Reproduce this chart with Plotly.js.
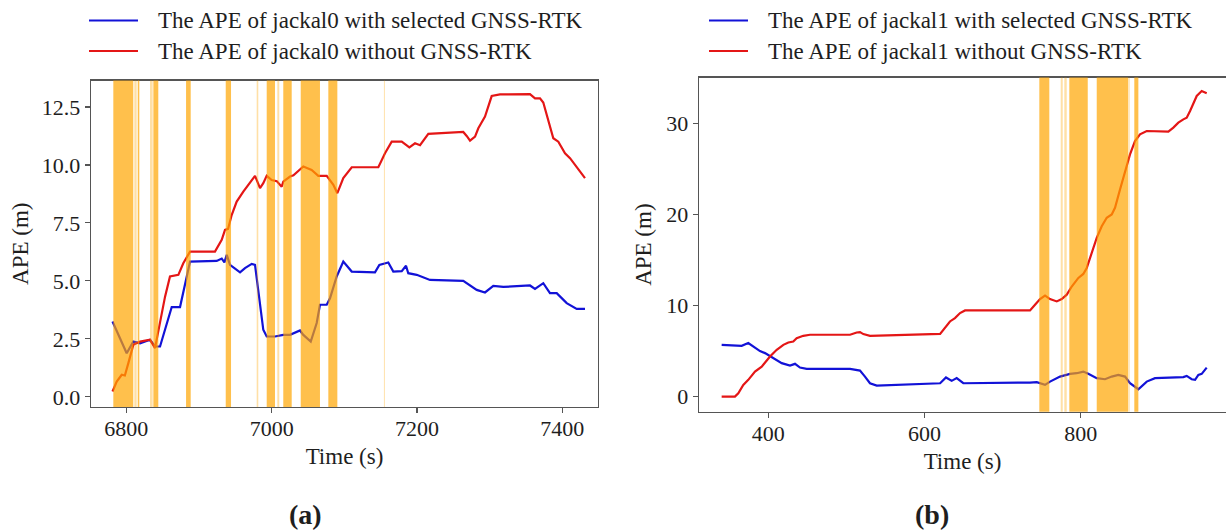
<!DOCTYPE html>
<html>
<head>
<meta charset="utf-8">
<script src="https://cdn.plot.ly/plotly-3.0.1.min.js"></script>
<style>html,body{margin:0;padding:0;background:#fff;}#chart{width:1226px;height:531px;}</style>
</head>
<body>
<div id="chart"></div>
<script>
// ---------- data ----------
const t0Blue = [6781,6790,6800.5,6809.6,6818.9,6832.6,6839.5,6846.4,6855.6,6862.5,6873.9,6880.8,6887.7,6924.4,6931.3,6935,6938.2,6942.7,6951.9,6956.5,6963.3,6972.6,6977.1,6981.6,6988.5,6993.2,7004.6,7016,7025.3,7039,7043.6,7053.8,7062,7066.5,7075.8,7080.3,7089.5,7098.6,7110.2,7142.2,7148.2,7160.5,7167.4,7179,7184.9,7188,7199.6,7217.9,7263.7,7282.2,7293.6,7305,7318.8,7355.5,7362.4,7373.8,7383,7392.3,7406,7419.8,7431.2];
const v0Blue = [3.25,2.6,1.88,2.38,2.31,2.46,2.17,2.17,3.18,3.87,3.87,4.9,5.83,5.86,5.96,5.8,6.12,5.69,5.47,5.37,5.55,5.73,5.69,4.61,2.89,2.6,2.6,2.67,2.67,2.86,2.67,2.38,3.18,3.97,3.97,4.25,5.19,5.83,5.4,5.37,5.69,5.79,5.4,5.42,5.65,5.33,5.26,5.04,5.0,4.61,4.5,4.78,4.74,4.8,4.65,4.9,4.47,4.47,4.04,3.79,3.79];
const t0Red = [6781,6786.8,6793.7,6798,6802.8,6809.6,6818.9,6832.6,6839.5,6846.4,6853.3,6860.1,6871.6,6878.4,6887.7,6922,6931.3,6935.8,6940,6945,6951.9,6961,6970.2,6977.1,6984,6988.5,6993.2,7000,7007,7013.8,7016,7025.3,7030,7043.6,7055,7064.2,7075.8,7084.9,7090.4,7098.6,7110.2,7146.8,7156,7165.2,7179,7189.5,7197.3,7204.2,7215.6,7263.7,7268.4,7273,7279.9,7284.4,7293.6,7302.8,7314.2,7355.5,7362.4,7369.3,7373.8,7387.6,7394.5,7403.7,7410.6,7431.2];
const v0Red = [0.23,0.66,0.95,0.92,1.45,2.24,2.38,2.46,2.1,3.18,4.32,5.19,5.26,5.76,6.26,6.26,6.77,7.2,7.24,7.84,8.42,8.85,9.21,9.53,9.0,9.21,9.53,9.35,9.3,9.06,9.28,9.5,9.55,9.93,9.78,9.53,9.53,9.14,8.78,9.43,9.9,9.9,10.5,11.0,11.0,10.76,10.93,10.85,11.34,11.42,11.25,11.05,11.22,11.58,12.08,12.97,13.04,13.05,12.87,12.87,12.69,11.15,11.0,10.5,10.29,9.43];

const t1Blue = [340.3,359.5,365.9,374.4,383,389.4,395.8,406.4,417.2,427.8,434.2,440.6,449.2,504.7,517.4,523.8,530.2,538.8,620,627.5,634.8,641.2,649.7,735.1,743.7,754.3,760.7,773.5,786.3,794.9,803.3,809.7,820.5,831.1,839.7,848.1,856.7,863.1,873.8,884.5,895.1,931.4,935.7,942.1,946.4,950.6,954.9,961.3];
const v1Blue = [5.69,5.66,5.58,5.88,5.33,5.0,4.78,4.23,3.68,3.41,3.6,3.19,3.05,3.05,2.86,2.2,1.47,1.21,1.47,2.1,1.73,2.03,1.47,1.54,1.58,1.29,1.65,2.2,2.5,2.57,2.75,2.5,2.03,1.91,2.2,2.39,2.2,1.47,0.81,1.65,2.03,2.14,2.28,1.91,1.84,2.39,2.5,3.19];
const t1Red = [340.3,357.3,361.6,368,374.4,383,391.6,402.2,410.8,419.3,425.7,432,436.3,444.8,453.4,504.7,513.2,517.4,521.7,530.2,620,626.2,632.6,639,645.5,651.9,735.1,741.5,747.9,754.3,760.7,769.3,775.7,782.1,788.5,797,803.3,807.7,814.1,820.5,826.9,833.3,839.7,843.9,850.3,856.7,863.1,869.5,875.9,884.5,893,912.2,918.6,925,931.4,935.7,940,944.2,946.4,948.5,954.9,961.3];
const v1Red = [0,0,0.37,1.29,1.84,2.75,3.3,4.41,5.14,5.69,5.95,6.06,6.42,6.68,6.8,6.8,7.05,7.09,6.87,6.68,6.9,7.53,8.26,8.63,9.18,9.47,9.47,10.1,10.72,11.09,10.72,10.46,10.72,11.2,12.1,13.04,13.48,14.14,15.79,17.44,18.72,19.65,20.01,20.75,22.76,24.78,26.62,28.08,28.82,29.19,29.19,29.12,29.56,30.11,30.47,30.65,31.39,32.31,32.68,33.04,33.59,33.34];

// GNSS-RTK selected intervals (s): strong and faint spans
const bands0Start = [6782.1,6815.7,6837.2,6882.2,6936.8,6993.2,7016,7040,7078];
const bands0End   = [6809.6,6817.9,6844,6888.6,6944.1,7004.6,7027.6,7066.5,7090.4];
const faint0Start = [6811,6832.6,6979.4,7007.8,7154.5];
const faint0End   = [6814.3,6836.3,6981.6,7010.5,7155.8];
const bands1Start = [747,785.4,820.5,868.6];
const bands1End   = [759.8,809,861,873.8];
const faint1Start = [774.4,779,862.2];
const faint1End   = [777,782.1,863];

const legend0 = ["The APE of jackal0 with selected GNSS-RTK","The APE of jackal0 without GNSS-RTK"];
const legend1 = ["The APE of jackal1 with selected GNSS-RTK","The APE of jackal1 without GNSS-RTK"];
const panelLabels = ["(a)","(b)"];
const xTitle = "Time (s)", yTitle = "APE (m)";

// ---------- layout helpers ----------
const W = 1226, H = 531;
const fx = p => p / W, fy = p => 1 - p / H;
const BLUE = "rgb(18,18,215)", RED = "rgb(228,22,22)", ORANGE = "rgb(255,165,0)";
const FONT = "Liberation Serif, Times New Roman, serif";
const TXT = "#1e1e1e", AX = "#555";

const lineTrace = (x, y, color, xa, ya) => ({
  x, y, type: "scatter", mode: "lines", xaxis: xa, yaxis: ya,
  line: {color, width: 2.2}, showlegend: false, hoverinfo: "skip"
});

const data = [
  lineTrace(t0Blue, v0Blue, BLUE, "x", "y"),
  lineTrace(t0Red, v0Red, RED, "x", "y"),
  lineTrace(t1Blue, v1Blue, BLUE, "x2", "y2"),
  lineTrace(t1Red, v1Red, RED, "x2", "y2")
];

const shapes = [];
function addBands(starts, ends, xref, yref, op) {
  starts.forEach((s, i) => shapes.push({
    type: "rect", xref, yref: yref + " domain", x0: s, x1: ends[i], y0: 0, y1: 1,
    fillcolor: ORANGE, opacity: op, line: {width: 0}, layer: "above"
  }));
}
addBands(bands0Start, bands0End, "x", "y", 0.7);
addBands(faint0Start, faint0End, "x", "y", 0.35);
addBands(bands1Start, bands1End, "x2", "y2", 0.7);
addBands(faint1Start, faint1End, "x2", "y2", 0.35);

// legend lines (manual legends)
function legendLine(x0, x1, y, color) {
  shapes.push({type: "line", xref: "paper", yref: "paper", x0: fx(x0), x1: fx(x1), y0: fy(y), y1: fy(y),
    line: {color, width: 2.2}});
}
legendLine(89, 138, 20.5, BLUE); legendLine(89, 138, 51, RED);
legendLine(709, 748, 20.5, BLUE); legendLine(709, 748, 51, RED);

const ann = (text, x, y, size, extra) => Object.assign({
  text, xref: "paper", yref: "paper", x: fx(x), y: fy(y), showarrow: false,
  xanchor: "left", yanchor: "middle", font: {family: FONT, size, color: TXT}
}, extra || {});

const annotations = [
  ann(legend0[0], 156, 20.5, 23), ann(legend0[1], 156, 51, 23),
  ann(legend1[0], 766, 20.5, 23), ann(legend1[1], 766, 51, 23),
  ann("<b>" + panelLabels[0] + "</b>", 305, 514, 28, {xanchor: "center"}),
  ann("<b>" + panelLabels[1] + "</b>", 932, 514, 28, {xanchor: "center"})
];

const axBase = {
  showgrid: false, zeroline: false, showline: true, linecolor: AX, linewidth: 1.3,
  ticks: "outside", ticklen: 5, tickwidth: 1.2, tickcolor: AX,
  tickfont: {family: FONT, size: 22, color: TXT}, automargin: false
};

const layout = {
  width: W, height: H, margin: {l: 0, r: 0, t: 0, b: 0},
  paper_bgcolor: "#fff", plot_bgcolor: "#fff", showlegend: false,
  xaxis: Object.assign({}, axBase, {
    domain: [fx(91), fx(598)], range: [6751.4, 7449.1], anchor: "y",
    tickmode: "linear", tick0: 6800, dtick: 200, mirror: true, ticklabelstandoff: -4,
    title: {text: xTitle, font: {family: FONT, size: 23, color: TXT}, standoff: 8}
  }),
  yaxis: Object.assign({}, axBase, {
    domain: [fy(407), fy(80.5)], range: [-0.44, 13.64], anchor: "x",
    tickmode: "linear", tick0: 0, dtick: 2.5, tickformat: ".1f", mirror: true,
    title: {text: yTitle, font: {family: FONT, size: 23, color: TXT}, standoff: 6}
  }),
  xaxis2: Object.assign({}, axBase, {
    domain: [fx(699), 1], range: [311.3, 986], anchor: "y2",
    tickmode: "linear", tick0: 0, dtick: 200, mirror: true, ticklabelstandoff: -4,
    title: {text: xTitle, font: {family: FONT, size: 23, color: TXT}, standoff: 8}
  }),
  yaxis2: Object.assign({}, axBase, {
    domain: [fy(411.8), fy(77.5)], range: [-1.67, 35.07], anchor: "x2",
    tickmode: "linear", tick0: 0, dtick: 10, mirror: false,
    title: {text: yTitle, font: {family: FONT, size: 23, color: TXT}, standoff: 8}
  }),
  shapes, annotations
};

Plotly.newPlot("chart", data, layout, {staticPlot: true, displayModeBar: false});
</script>
</body>
</html>
